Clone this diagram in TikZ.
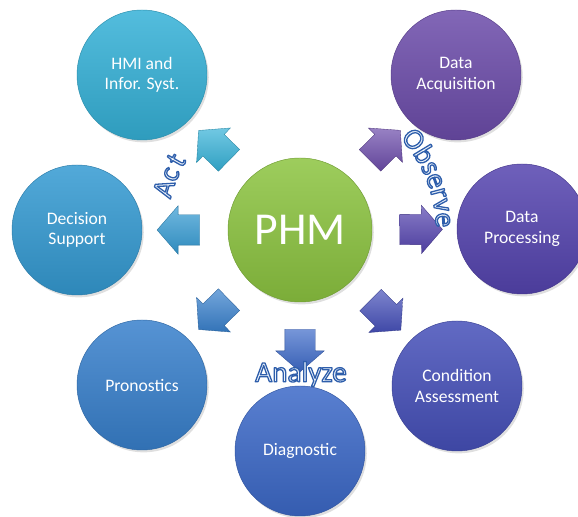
\documentclass[tikz,border=0pt]{standalone}
\usepackage{fontspec}
\setmainfont{Carlito}
\usetikzlibrary{shapes.arrows, shadows}
\definecolor{hmi_colour}{RGB}{53, 177, 215}
\definecolor{dec_colour}{RGB}{52, 154, 210}
\definecolor{pro_colour}{RGB}{56, 128, 204}
\definecolor{diag_colour}{RGB}{60, 105, 200}
\definecolor{cond_colour}{RGB}{70, 80, 185}
\definecolor{proc_colour}{RGB}{85, 68, 175}
\definecolor{acq_colour}{RGB}{108, 76, 170}
\definecolor{phm_colour}{RGB}{140, 196, 64}
\definecolor{lbl_fill}{RGB}{236, 243, 251}
% outlined letters: fill + stroke render mode
\newcommand{\outl}[1]{\special{pdf:literal direct 0.18 0.37 0.67 RG 1.1 w 1 j 2 Tr}#1\special{pdf:literal direct 0 Tr}}

\begin{document}
\begin{tikzpicture}[
    x=0.03cm, y=-0.03cm,
    every node/.style={font=\fontsize{15}{17.5}\selectfont, text=white},
    ball/.style={circle, draw=#1!80!black, line width=0.4pt,
                top color=#1!85!white, bottom color=#1!88!black,
                minimum size=3.9cm, align=center, inner sep=0pt,
                drop shadow={opacity=0.25, shadow xshift=1.5pt, shadow yshift=-2pt}},
    hub/.style={ball=#1, minimum size=4.32cm, font=\fontsize{39}{42}\selectfont},
    blk/.style={single arrow, draw=#1!75!black, line width=0.3pt,
                top color=#1!70!white, bottom color=#1!90!black,
                minimum height=1.28cm, inner xsep=0pt, inner ysep=0.45cm,
                single arrow head extend=0.27cm, single arrow tip angle=98,
                single arrow head indent=0pt},
    lbl/.style={font=\fontsize{25}{27}\selectfont, text=lbl_fill, inner sep=0pt},
]
\useasboundingbox (0,0) rectangle (578,517);

% outer ring
\node[ball=hmi_colour]  (hmi)  at (142, 75)  {HMI and\\Infor. Syst.};
\node[ball=acq_colour]  (acq)  at (456, 75)  {Data\\Acquisition};
\node[ball=dec_colour]  (dec)  at (77, 230)  {Decision\\Support};
\node[ball=proc_colour] (proc) at (522, 229) {Data\\Processing};
\node[ball=pro_colour]  (pro)  at (142, 385) {Pronostics};
\node[ball=cond_colour] (cond) at (457, 386) {Condition\\Assessment};
\node[ball=diag_colour] (diag) at (300, 451) {Diagnostic};

% hub
\node[hub=phm_colour] (phm) at (300, 230) {PHM};

% block arrows
\path (phm) -- (hmi)  node[midway, sloped, allow upside down, blk=hmi_colour]  (a_hmi)  {};
\path (phm) -- (dec)  node[midway, sloped, allow upside down, blk=dec_colour]  (a_dec)  {};
\path (phm) -- (pro)  node[midway, sloped, allow upside down, blk=pro_colour]  (a_pro)  {};
\path (phm) -- (diag) node[midway, sloped, allow upside down, blk=diag_colour] (a_diag) {};
\path (phm) -- (cond) node[midway, sloped, allow upside down, blk=cond_colour] (a_cond) {};
\path (phm) -- (proc) node[midway, sloped, allow upside down, blk=proc_colour] (a_proc) {};
\path (phm) -- (acq)  node[midway, sloped, allow upside down, blk=acq_colour]  (a_acq)  {};

% curved labels
\foreach \ch/\a [count=\i] in {O/38.5, b/31.2, s/25.5, e/20.0, r/14.8, v/9.9, e/4.0}
  \node[lbl, anchor=base, rotate=\a-90] (obs\i) at ({300+136*cos(\a)}, {230-136*sin(\a)}) {\outl{\ch}};
\foreach \ch/\a [count=\i] in {A/163, c/156.7, t/150.5}
  \node[lbl, anchor=base, rotate=\a-90] (act\i) at ({300+133*cos(\a)}, {230-133*sin(\a)}) {\outl{\ch}};
\node[lbl] (analyze) at (301, 374) {\outl{Analyze}};
\end{tikzpicture}
\end{document}
